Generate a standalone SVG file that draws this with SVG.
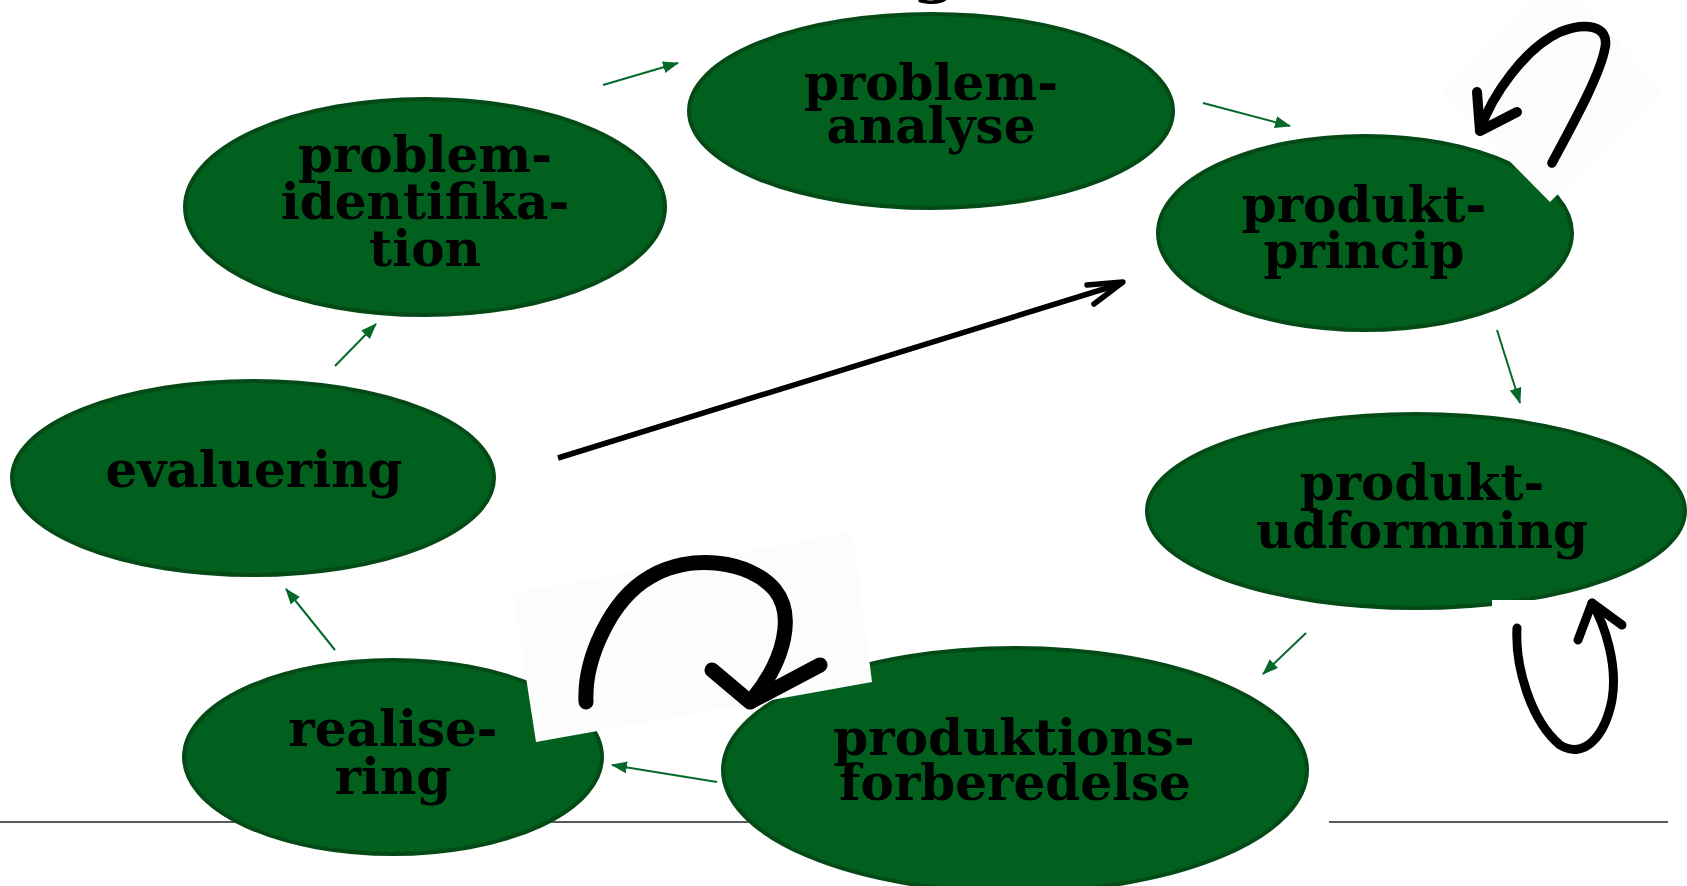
<svg xmlns="http://www.w3.org/2000/svg" width="1687" height="886" viewBox="0 0 1687 886">
  <defs>
    <marker id="ga" markerUnits="userSpaceOnUse" markerWidth="16" markerHeight="12" viewBox="0 0 16 12" refX="15" refY="6" orient="auto">
      <path d="M0,0 L16,6 L0,12 Z" fill="#04692a"/>
    </marker>
    <style>
      .node { fill: #02601f; stroke: #034a17; stroke-width: 4; }
      .lbl { font-family: "DejaVu Serif", "Liberation Serif", serif; font-weight: bold; font-size: 50px; fill: #000; text-anchor: middle; }
      .garrow { stroke: #04692a; stroke-width: 2; fill: none; marker-end: url(#ga); }
      .hand { fill: none; stroke: #000; stroke-linecap: round; stroke-linejoin: round; }
      .patch { fill: #fcfcfc; }
    </style>
  </defs>
  <rect width="1687" height="886" fill="#fff"/>

  <g id="background">
    <line x1="0" y1="822" x2="820" y2="822" stroke="#222" stroke-width="1.5"/>
    <line x1="1329" y1="822" x2="1668" y2="822" stroke="#222" stroke-width="1.5"/>
    <text x="935" y="-10" class="lbl" style="font-size:64px">g</text>
  </g>

  <g id="node-problemanalyse">
    <ellipse class="node" cx="931" cy="111" rx="242" ry="97"/>
    <text class="lbl" x="931" y="100">problem-</text>
    <text class="lbl" x="931" y="143">analyse</text>
  </g>

  <g id="node-problemidentifikation">
    <ellipse class="node" cx="425" cy="207" rx="240" ry="108"/>
    <text class="lbl" x="425" y="172">problem-</text>
    <text class="lbl" x="425" y="219">identifika-</text>
    <text class="lbl" x="425" y="266">tion</text>
  </g>

  <g id="node-produktprincip">
    <ellipse class="node" cx="1365" cy="233" rx="207" ry="97"/>
    <text class="lbl" x="1364" y="222">produkt-</text>
    <text class="lbl" x="1364" y="268">princip</text>
  </g>

  <g id="node-evaluering">
    <ellipse class="node" cx="253" cy="478" rx="241" ry="97"/>
    <text class="lbl" x="254" y="487">evaluering</text>
  </g>

  <g id="node-produktudformning">
    <ellipse class="node" cx="1416" cy="511" rx="269" ry="97"/>
    <text class="lbl" x="1422" y="500">produkt-</text>
    <text class="lbl" x="1422" y="548">udformning</text>
  </g>

  <g id="node-realisering">
    <ellipse class="node" cx="393" cy="757" rx="209" ry="97"/>
    <text class="lbl" x="393" y="746">realise-</text>
    <text class="lbl" x="393" y="794">ring</text>
  </g>

  <g id="node-produktionsforberedelse">
    <ellipse class="node" cx="1015" cy="770" rx="292" ry="122"/>
    <text class="lbl" x="1014" y="755">produktions-</text>
    <text class="lbl" x="1015" y="800">forberedelse</text>
  </g>

  <g id="connectors">
    <line class="garrow" x1="603" y1="85" x2="678" y2="63"/>
    <line class="garrow" x1="1203" y1="103" x2="1290" y2="126"/>
    <line class="garrow" x1="1497" y1="330" x2="1520" y2="403"/>
    <line class="garrow" x1="1306" y1="633" x2="1263" y2="674"/>
    <line class="garrow" x1="717" y1="782" x2="612" y2="765"/>
    <line class="garrow" x1="335" y1="650" x2="286" y2="589"/>
    <line class="garrow" x1="335" y1="366" x2="376" y2="324"/>

    <line x1="558" y1="458" x2="1120" y2="284" stroke="#000" stroke-width="5.5"/>
    <polyline points="1087,285 1123,282 1094,304" fill="none" stroke="#000" stroke-width="5.5" stroke-linejoin="round" stroke-linecap="round"/>

    <polygon class="patch" points="1550,202 1442,93 1558,-22 1662,90"/>
    <path class="hand" stroke-width="9.5" d="M1552,163 C1575,120 1600,75 1605,48 C1610,25 1585,22 1560,32 C1525,48 1492,95 1480,130"/>
    <path class="hand" stroke-width="10" d="M1477,92 L1480,131 L1517,112"/>

    <polygon class="patch" points="513,593 853,532 872,682 536,742"/>
    <path class="hand" stroke-width="15" d="M586,702 C584,660 610,600 650,577 C690,553 750,560 775,590 C795,615 785,660 752,700"/>
    <path class="hand" stroke-width="15" d="M712,670 L750,702 L820,665"/>

    <rect x="1492" y="600" width="150" height="170" fill="#fff"/>
    <path class="hand" stroke-width="9" d="M1517,628 C1515,665 1530,720 1560,745 C1585,760 1605,735 1612,700 C1618,665 1605,625 1592,603"/>
    <path class="hand" stroke-width="9" d="M1578,640 L1592,603 L1622,625"/>
  </g>
</svg>
